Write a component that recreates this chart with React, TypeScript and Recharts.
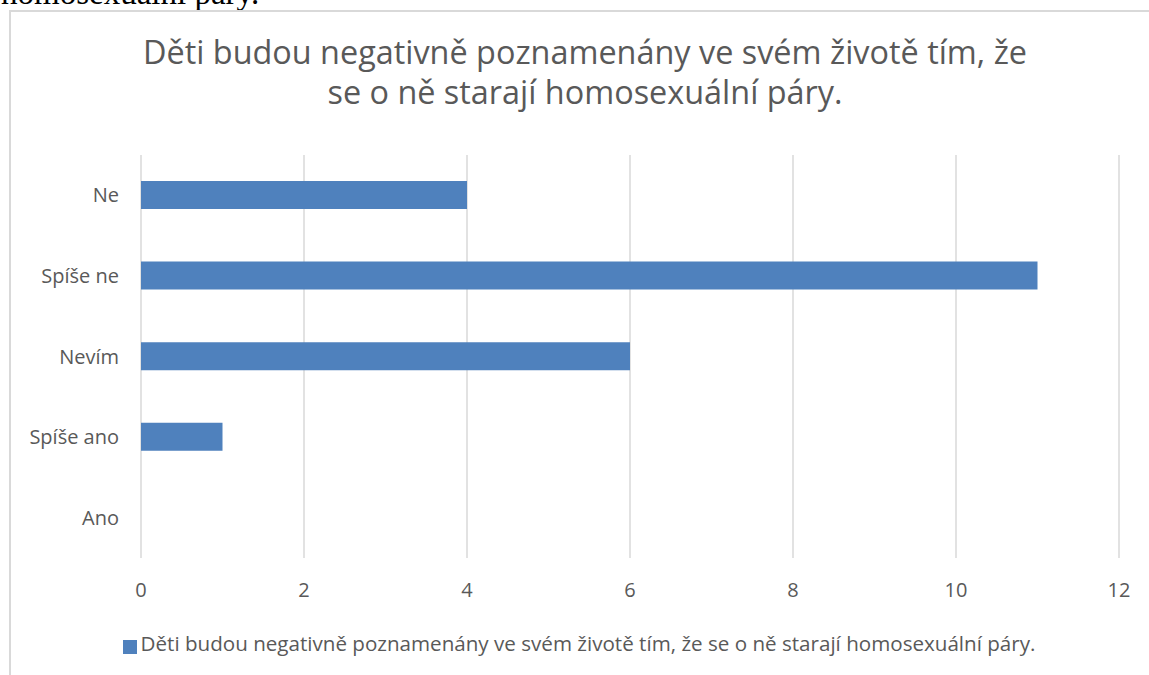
import { Bar, BarChart, CartesianGrid, Legend, XAxis, YAxis } from "recharts"

// odpovědi a počty respondentů
const categories = ["Ne", "Spíše ne", "Nevím", "Spíše ano", "Ano"]
const counts = [4, 11, 6, 1, 0]
const xTicks = [0, 2, 4, 6, 8, 10, 12]

const seriesName = "Děti budou negativně poznamenány ve svém životě tím, že se o ně starají homosexuální páry."
const titleLines = ["Děti budou negativně poznamenány ve svém životě tím, že", "se o ně starají homosexuální páry."]

const TEXT = "#595959"
const GRID = "#d9d9d9"
const BAR = "#4f81bd"
const FONT = "'Open Sans', 'Noto Sans', sans-serif"

const data = categories.map((name, i) => ({ name, value: counts[i] }))

export default function App() {
  return (
    <div
      style={{
        position: "absolute",
        left: 0,
        top: 0,
        width: 1149,
        height: 675,
        overflow: "hidden",
        background: "#fff",
      }}
    >
      {/* zbytek textu dokumentu nad grafem */}
      <div
        style={{
          position: "absolute",
          left: 1,
          top: -23,
          fontFamily: "'Liberation Serif', serif",
          fontSize: 33,
          lineHeight: 1,
          whiteSpace: "nowrap",
          color: "#000",
        }}
      >
        homosexuální páry.
      </div>

      <div
        style={{
          position: "absolute",
          left: 9,
          top: 10,
          width: 1170,
          height: 700,
          border: `2px solid ${GRID}`,
          boxSizing: "border-box",
        }}
      />

      <div
        style={{
          position: "absolute",
          left: 0,
          top: 31,
          width: 1170,
          textAlign: "center",
          fontFamily: FONT,
          fontSize: 32.4,
          lineHeight: "40px",
          color: TEXT,
        }}
      >
        {titleLines.map((l) => (
          <div key={l}>{l}</div>
        ))}
      </div>

      <div style={{ position: "absolute", left: 0, top: 0 }}>
        <BarChart
          width={1170}
          height={675}
          data={data}
          layout="vertical"
          margin={{ top: 155, right: 51, left: 10, bottom: 16 }}
          style={{ fontFamily: FONT }}
        >
          <CartesianGrid horizontal={false} stroke={GRID} strokeWidth={1.5} />
          <XAxis
            type="number"
            domain={[0, 12]}
            ticks={xTicks}
            axisLine={false}
            tickLine={false}
            tickSize={0}
            tickMargin={25}
            height={71}
            tick={{ fill: TEXT, fontSize: 20 }}
          />
          <YAxis
            type="category"
            dataKey="name"
            width={131}
            axisLine={false}
            tickLine={false}
            tickSize={0}
            tickMargin={22}
            tick={{ fill: TEXT, fontSize: 20 }}
          />
          <Legend
            verticalAlign="bottom"
            align="center"
            height={30}
            iconType="square"
            iconSize={14}
            wrapperStyle={{ left: 0, width: 1168 }}
            formatter={(value) => <span style={{ color: TEXT, fontSize: 20.6 }}>{value}</span>}
          />
          <Bar dataKey="value" name={seriesName} fill={BAR} barSize={28} isAnimationActive={false} />
        </BarChart>
      </div>
    </div>
  )
}
